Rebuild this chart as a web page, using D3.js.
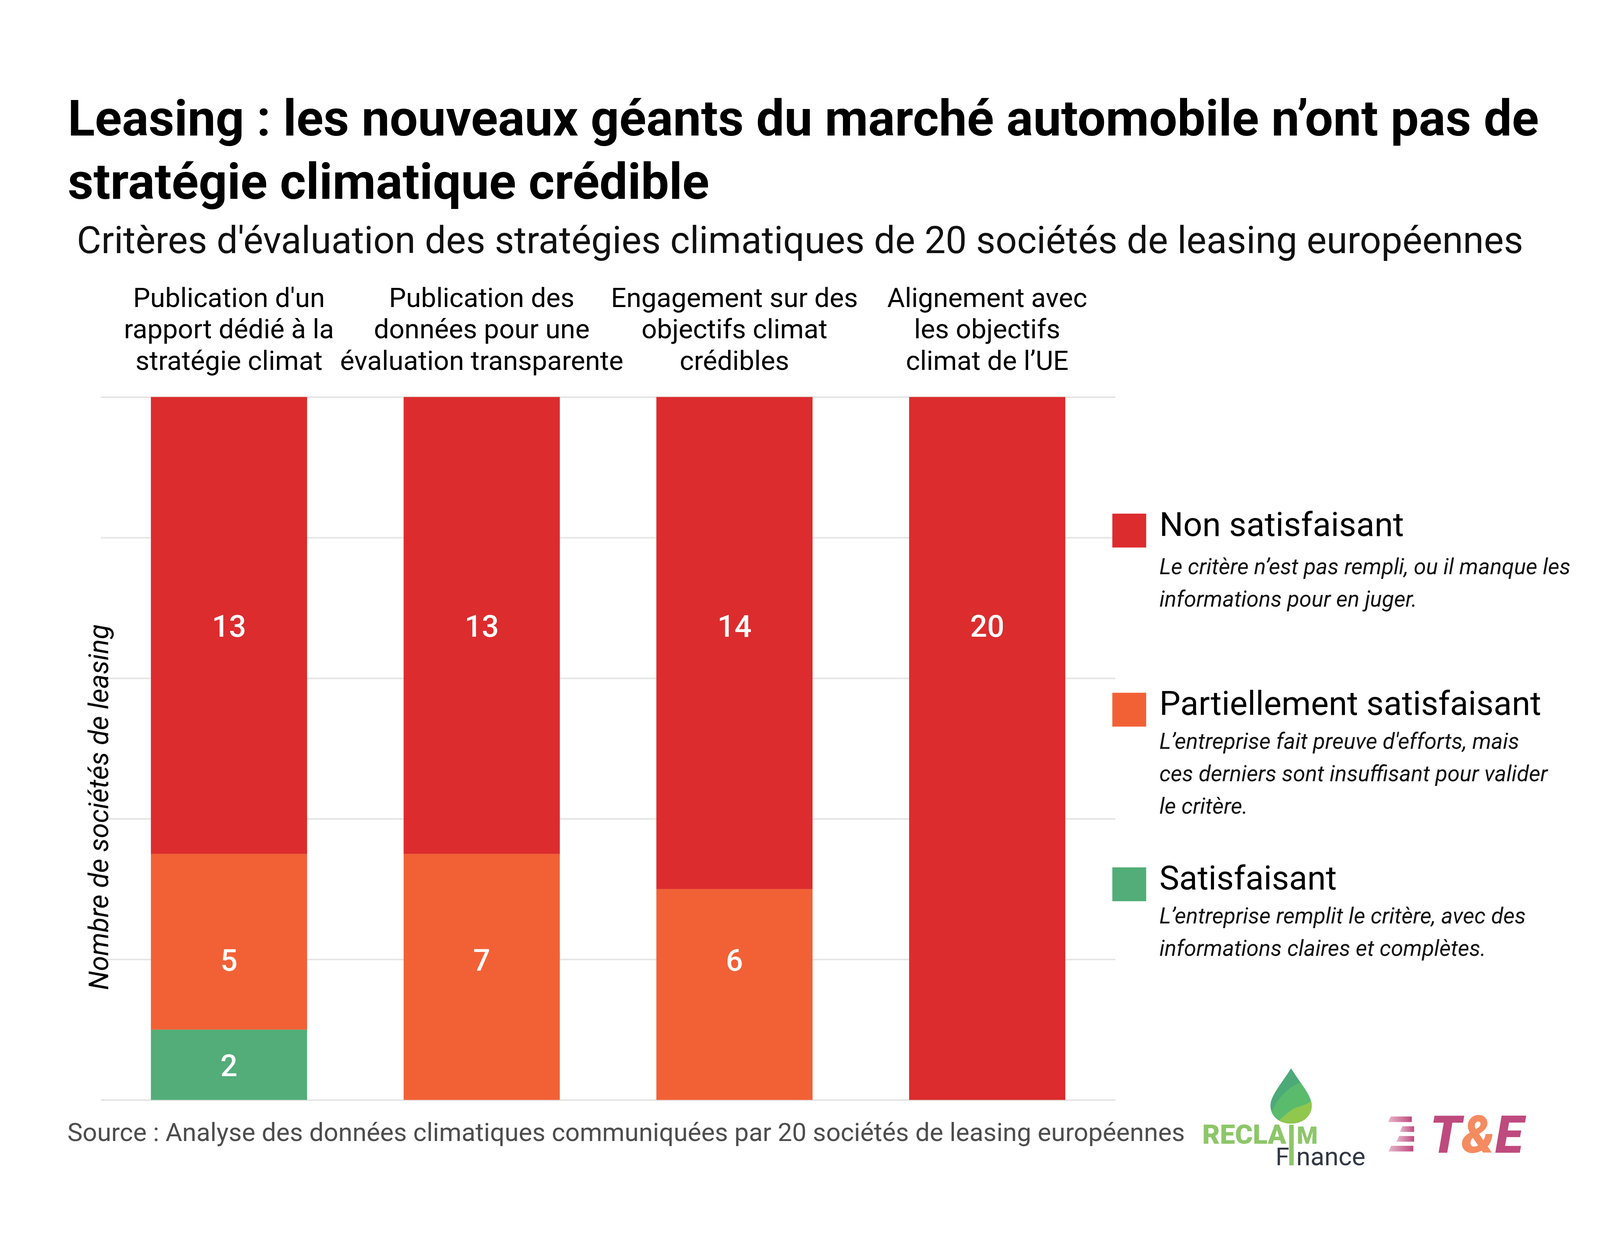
<!DOCTYPE html>
<html>
<head>
<meta charset="utf-8">
<script src="https://cdn.jsdelivr.net/npm/d3@7"></script>
<style>
  html, body { margin: 0; padding: 0; background: #fff; overflow: hidden; }
  svg { display: block; width: 100%; height: auto; }
  text { font-family: Roboto, "Noto Sans", sans-serif; }
</style>
</head>
<body>
<div id="chart"></div>
<script>
// data
var categoryLines = [
  ["Publication d'un", "rapport dédié à la", "stratégie climat"],
  ["Publication des", "données pour une", "évaluation transparente"],
  ["Engagement sur des", "objectifs climat", "crédibles"],
  ["Alignement avec", "les objectifs", "climat de l’UE"]
];
var seriesKeys = ["satisfaisant", "partiel", "non"];
var seriesNames = ["Satisfaisant", "Partiellement satisfaisant", "Non satisfaisant"];
var seriesDesc = [
  ["L’entreprise remplit le critère, avec des", "informations claires et complètes."],
  ["L’entreprise fait preuve d'efforts, mais", "ces derniers sont insuffisant pour valider", "le critère."],
  ["Le critère n’est pas rempli, ou il manque les", "informations pour en juger."]
];
var satisfaisant = [2, 0, 0, 0];
var partiel = [5, 7, 6, 0];
var nonSatisfaisant = [13, 13, 14, 20];
var yTicks = [0, 4, 8, 12, 16, 20];
var colors = ["#52ad78", "#f26136", "#dc2c2e"];

var width = 4252, height = 3200;
var plot = {left: 268, right: 2964, top: 1055, bottom: 2923};

var svg = d3.select("#chart")
  .append("svg")
    .attr("viewBox", "0 0 " + width + " " + height)
    .attr("preserveAspectRatio", "xMinYMin meet");

svg.append("rect").attr("width", width).attr("height", height).attr("fill", "#fff");

// title block
var title = svg.append("text")
  .attr("font-size", 133)
  .attr("font-weight", 700)
  .attr("fill", "#000");
title.append("tspan").attr("x", 180).attr("y", 360)
  .text("Leasing : les nouveaux géants du marché automobile n’ont pas de");
title.append("tspan").attr("x", 180).attr("y", 528)
  .text("stratégie climatique crédible");

svg.append("text")
  .attr("x", width / 2)
  .attr("y", 673)
  .attr("text-anchor", "middle")
  .attr("font-size", 100)
  .attr("fill", "#111")
  .text("Critères d'évaluation des stratégies climatiques de 20 sociétés de leasing européennes");

// build rows for the stack
var rows = categoryLines.map(function(c, i) {
  return { idx: i, satisfaisant: satisfaisant[i], partiel: partiel[i], non: nonSatisfaisant[i] };
});
var stacked = d3.stack().keys(seriesKeys)(rows);

var x = d3.scaleBand()
  .domain(d3.range(categoryLines.length))
  .range([plot.left, plot.right])
  .paddingInner(0.382)
  .paddingOuter(0.198);

var y = d3.scaleLinear()
  .domain([0, 20])
  .range([plot.bottom, plot.top]);

// gridlines
var grid = svg.append("g")
  .attr("transform", "translate(" + plot.left + ",0)")
  .call(d3.axisLeft(y).tickValues(yTicks).tickSize(-(plot.right - plot.left)).tickFormat(""));
grid.select(".domain").remove();
grid.selectAll("line").attr("stroke", "#e4e4e4").attr("stroke-width", 4);

// bars
svg.append("g")
  .selectAll("g")
  .data(stacked)
  .join("g")
    .attr("fill", function(d, i) { return colors[i]; })
  .selectAll("rect")
  .data(function(d) { return d; })
  .join("rect")
    .attr("x", function(d) { return x(d.data.idx); })
    .attr("y", function(d) { return y(d[1]); })
    .attr("height", function(d) { return y(d[0]) - y(d[1]); })
    .attr("width", x.bandwidth());

// value labels: one row per series, centred on the span that all its segments share
stacked.forEach(function(s) {
  var segs = s.filter(function(d) { return d[1] - d[0] > 0; });
  var lo = d3.max(segs, function(d) { return d[0]; });
  var hi = d3.min(segs, function(d) { return d[1]; });
  var ly = y((lo + hi) / 2);
  svg.append("g")
    .selectAll("text")
    .data(segs)
    .join("text")
      .attr("x", function(d) { return x(d.data.idx) + x.bandwidth() / 2; })
      .attr("y", ly)
      .attr("dy", "0.38em")
      .attr("text-anchor", "middle")
      .attr("font-size", 80)
      .attr("font-weight", 500)
      .attr("fill", "#fff")
      .text(function(d) { return d[1] - d[0]; });
});

// category labels above the bars
categoryLines.forEach(function(lines, i) {
  var t = svg.append("text")
    .attr("text-anchor", "middle")
    .attr("font-size", 72)
    .attr("fill", "#000");
  lines.forEach(function(l, j) {
    t.append("tspan")
      .attr("x", x(i) + x.bandwidth() / 2)
      .attr("y", 816 + j * 83.5)
      .text(l);
  });
});

// y axis title
svg.append("text")
  .attr("transform", "translate(288,2145) rotate(-90)")
  .attr("text-anchor", "middle")
  .attr("font-size", 73)
  .attr("font-style", "italic")
  .attr("fill", "#000")
  .text("Nombre de sociétés de leasing");

// legend (top to bottom: non, partiel, satisfaisant)
var legendTops = [1365, 1841, 2305];
[2, 1, 0].forEach(function(si, k) {
  var top = legendTops[k];
  svg.append("rect")
    .attr("x", 2956).attr("y", top)
    .attr("width", 90).attr("height", 90)
    .attr("fill", colors[si]);
  svg.append("text")
    .attr("x", 3081).attr("y", top + 59)
    .attr("font-size", 89)
    .attr("fill", "#000")
    .text(seriesNames[si]);
  var d = svg.append("text")
    .attr("font-size", 59)
    .attr("font-style", "italic")
    .attr("fill", "#111");
  seriesDesc[si].forEach(function(l, j) {
    d.append("tspan")
      .attr("x", 3081)
      .attr("y", top + 59 + (k == 0 ? 102 : 90) + j * 86)
      .text(l);
  });
});

// source
svg.append("text")
  .attr("x", 179).attr("y", 3032)
  .attr("font-size", 68)
  .attr("fill", "#4d4d4d")
  .text("Source : Analyse des données climatiques communiquées par 20 sociétés de leasing européennes");

// Reclaim Finance logo
var defs = svg.append("defs");
var leafPath = "M3431,2839 C3458,2882 3486,2912 3486,2938 C3486,2966 3462,2986 3431,2986 C3400,2986 3376,2966 3376,2938 C3376,2912 3404,2882 3431,2839 Z";
defs.append("clipPath").attr("id", "leaf").append("path").attr("d", leafPath);
var leaf = svg.append("g").attr("clip-path", "url(#leaf)");
leaf.append("path").attr("d", leafPath).attr("fill", "#4caa78");
leaf.append("path")
  .attr("d", "M3470,2874 C3440,2876 3395,2910 3378,2960 L3378,2990 L3490,2990 L3490,2874 Z")
  .attr("fill", "#5abb6d");
leaf.append("path")
  .attr("d", "M3490,2922 C3470,2940 3450,2938 3432,2950 C3415,2962 3400,2975 3390,2990 L3490,2990 Z")
  .attr("fill", "#90c74c");

svg.append("rect")
  .attr("x", 3426).attr("y", 2989).attr("width", 12).attr("height", 108)
  .attr("fill", "#8dc66a");
var rf = svg.append("text");
rf.append("tspan")
  .attr("x", 3195).attr("y", 3040)
  .attr("font-size", 72).attr("font-weight", 900)
  .attr("fill", "#8dc66a")
  .text("RECLA");
rf.append("tspan")
  .attr("x", 3446).attr("y", 3040)
  .attr("font-size", 64).attr("font-weight", 900)
  .attr("fill", "#8dc66a")
  .text("M");
rf.append("tspan")
  .attr("x", 3390).attr("y", 3097)
  .attr("font-size", 66)
  .attr("fill", "#333846")
  .text("F");
rf.append("tspan")
  .attr("x", 3445).attr("y", 3097)
  .attr("font-size", 68)
  .attr("fill", "#333846")
  .text("nance");

// T&E logo
var grad = defs.append("linearGradient").attr("id", "tegrad");
grad.append("stop").attr("offset", "0%").attr("stop-color", "#e7b5cc");
grad.append("stop").attr("offset", "100%").attr("stop-color", "#bf4a7e");
var stripeLeft = [3692, 3723, 3714, 3693], stripeRight = [3752, 3758, 3758, 3756];
stripeLeft.forEach(function(l, i) {
  var y0 = 2967 + i * 26, h = 15;
  svg.append("path")
    .attr("d", "M" + (l - 3) + "," + (y0 + h) +
      " L" + (l + 4) + "," + y0 +
      " L" + stripeRight[i] + "," + y0 +
      " L" + stripeRight[i] + "," + (y0 + h) + " Z")
    .attr("fill", "url(#tegrad)");
});
var te = svg.append("text")
  .attr("x", 3800).attr("y", 3063)
  .attr("font-size", 138).attr("font-weight", 900).attr("font-style", "italic")
  .attr("textLength", 248).attr("lengthAdjust", "spacingAndGlyphs");
te.append("tspan").attr("fill", "#bf4a7e").text("T");
te.append("tspan").attr("fill", "#f58b60").text("&");
te.append("tspan").attr("fill", "#bf4a7e").text("E");
</script>
</body>
</html>
